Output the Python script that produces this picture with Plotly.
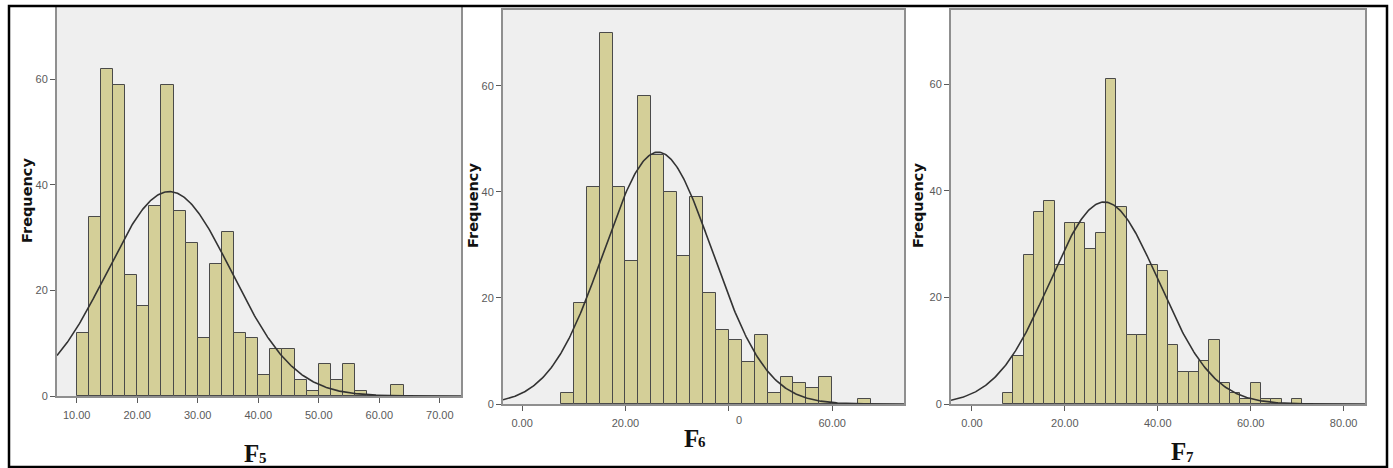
import numpy as np
import plotly.graph_objects as go

W, H = 1393, 468

# ---------------- data ----------------
f5_counts = [12, 34, 62, 59, 23, 17, 36, 59, 35, 29, 11, 25, 31, 12, 11, 4, 9, 9, 3, 1, 6, 3, 6, 1, 0, 0, 2]
f5_bin_start, f5_bin_width = 10.0, 2.0
f6_counts = [2, 19, 41, 70, 41, 27, 58, 47, 40, 28, 39, 21, 14, 12, 8, 13, 2, 5, 4, 3, 5, 0, 0, 1]
f6_bin_start, f6_bin_width = 7.5, 2.5
f7_counts = [2, 9, 28, 36, 38, 26, 34, 34, 29, 32, 61, 37, 13, 13, 26, 25, 11, 6, 6, 8, 12, 4, 2, 1, 4, 1, 1, 0, 1]
f7_bin_start, f7_bin_width = 20.0 / 3.0, 20.0 / 9.0

# normal-curve parameters (mean, sd)
curve_mean = [25.3, 26.3, 28.5]
curve_sd = [10.3, 10.5, 11.7]

caption_letters = ["F", "F", "F"]
caption_subs = ["5", "6", "7"]
y_tickvals = [0, 20, 40, 60]
x_tickvals = [[10, 20, 30, 40, 50, 60, 70], [0, 20, 40, 60], [0, 20, 40, 60, 80]]
x_ticktext = [["10.00", "20.00", "30.00", "40.00", "50.00", "60.00", "70.00"],
              ["0.00", "20.00", "", "60.00"],
              ["0.00", "20.00", "40.00", "60.00", "80.00"]]

# ---------------- layout geometry (pixels) ----------------
panels = [
    dict(x0=57, x1=461, ytop=7, ybot=396, xr=[6.75, 73.5], yr=[0, 73.7]),
    dict(x0=503, x1=904, ytop=10, ybot=404, xr=[-3.7, 73.9], yr=[0, 74.3]),
    dict(x0=951, x1=1365, ytop=10, ybot=404, xr=[-4.5, 84.6], yr=[0, 73.9]),
]
data_sets = [
    (f5_counts, f5_bin_start, f5_bin_width),
    (f6_counts, f6_bin_start, f6_bin_width),
    (f7_counts, f7_bin_start, f7_bin_width),
]

BAR_FILL = "#d4cf98"
BAR_LINE = "#4a4a4a"
PLOT_BG = "#efefef"
TICK_COL = "#5a5a5a"

fig = go.Figure()
layout = dict(width=W, height=H, margin=dict(l=0, r=0, t=0, b=0, autoexpand=False),
              paper_bgcolor="white", showlegend=False, bargap=0)
shapes = []
annotations = []

for i, (p, (counts, b0, bw)) in enumerate(zip(panels, data_sets)):
    sfx = "" if i == 0 else str(i + 1)
    xa, ya = "x" + sfx, "y" + sfx
    counts = np.array(counts, dtype=float)
    centers = b0 + bw * (np.arange(len(counts)) + 0.5)
    fig.add_trace(go.Bar(x=centers, y=counts, width=bw, xaxis=xa, yaxis=ya,
                         marker=dict(color=BAR_FILL, line=dict(color=BAR_LINE, width=1))))
    n = counts.sum()
    xs = np.linspace(p["xr"][0], p["xr"][1], 400)
    mu, sd = curve_mean[i], curve_sd[i]
    ys = n * bw / (sd * np.sqrt(2 * np.pi)) * np.exp(-(xs - mu) ** 2 / (2 * sd ** 2))
    fig.add_trace(go.Scatter(x=xs, y=ys, mode="lines", xaxis=xa, yaxis=ya,
                             line=dict(color="#333333", width=1.6), hoverinfo="skip"))

    dom_x = [p["x0"] / W, p["x1"] / W]
    dom_y = [1 - p["ybot"] / H, 1 - p["ytop"] / H]
    layout["xaxis" + sfx] = dict(
        domain=dom_x, range=p["xr"], anchor=ya, showgrid=False, zeroline=False,
        showline=True, mirror=True, linecolor="#8f8f8f", linewidth=2,
        ticks="outside", ticklen=5, tickcolor=TICK_COL, tickwidth=1,
        tickvals=x_tickvals[i], ticktext=x_ticktext[i], ticklabelstandoff=3,
        tickfont=dict(family="Liberation Sans", size=11, color=TICK_COL))
    layout["yaxis" + sfx] = dict(
        domain=dom_y, range=p["yr"], anchor=xa, showgrid=False, zeroline=False,
        showline=True, mirror=True, linecolor="#8f8f8f", linewidth=2,
        ticks="outside", ticklen=5, tickcolor=TICK_COL, tickwidth=1,
        tickvals=y_tickvals, tickfont=dict(family="Liberation Sans", size=11, color=TICK_COL))
    shapes.append(dict(type="rect", xref=xa + " domain", yref=ya + " domain",
                       x0=0, x1=1, y0=0, y1=1, fillcolor=PLOT_BG, line=dict(width=0),
                       layer="below"))

# Frequency labels
for xc, yc in [(27, 201), (473, 206), (918, 206)]:
    annotations.append(dict(text="<b>Frequency</b>", x=xc / W, y=1 - yc / H, xref="paper", yref="paper",
                            showarrow=False, textangle=-90, xanchor="center", yanchor="middle",
                            font=dict(family="DejaVu Sans", size=14.5, color="#111111")))

# odd clipped tick label on F6 axis
annotations.append(dict(text="0", x=40, y=0, xref="x2", yref="y2", xshift=10, yshift=-16,
                        showarrow=False, xanchor="center", yanchor="middle",
                        font=dict(family="Liberation Sans", size=11, color=TICK_COL)))

# captions (letter + subscript digit)
letter_pos = [(251.5, 453.5), (691, 438), (1178.5, 451.5)]
sub_pos = [(263, 458), (702, 442), (1189.5, 456.5)]
for let, sub, (lx, ly), (sx, sy) in zip(caption_letters, caption_subs, letter_pos, sub_pos):
    annotations.append(dict(text="<b>" + let + "</b>", x=lx / W, y=1 - ly / H, xref="paper", yref="paper",
                            showarrow=False, xanchor="center", yanchor="middle",
                            font=dict(family="Liberation Serif", size=25, color="#111111")))
    annotations.append(dict(text="<b>" + sub + "</b>", x=sx / W, y=1 - sy / H, xref="paper", yref="paper",
                            showarrow=False, xanchor="center", yanchor="middle",
                            font=dict(family="Liberation Serif", size=15, color="#111111")))

# outer frame
shapes.append(dict(type="rect", xref="paper", yref="paper", x0=9 / W, x1=1387 / W,
                   y0=1 - 467 / H, y1=1 - 6 / H, line=dict(color="black", width=2.5)))

layout["shapes"] = shapes
layout["annotations"] = annotations
layout["plot_bgcolor"] = "rgba(0,0,0,0)"
fig.update_layout(**layout)
fig.write_html(
    "out.html",
    config={"displayModeBar": False, "responsive": False},
    post_script=(
        "var s=document.createElement('style');"
        "s.textContent='html,body{margin:0;padding:0;overflow:hidden;width:1393px;height:468px;}';"
        "document.head.appendChild(s);"
    ),
)
